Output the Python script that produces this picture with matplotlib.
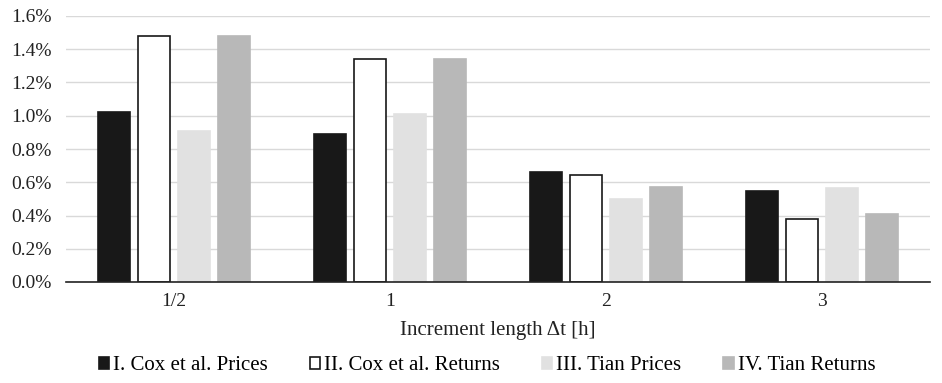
import matplotlib.pyplot as plt
import numpy as np
from matplotlib.ticker import PercentFormatter

plt.rcParams["font.family"] = ["Liberation Serif", "DejaVu Serif"]

# increment lengths and relative error of each estimator (%)
categories = ["1/2", "1", "2", "3"]
cox_prices = [1.02, 0.89, 0.66, 0.55]
cox_returns = [1.48, 1.34, 0.645, 0.38]
tian_prices = [0.91, 1.01, 0.50, 0.565]
tian_returns = [1.48, 1.34, 0.57, 0.41]

series = [
    ("I. Cox et al. Prices", cox_prices, "#181818", "#181818"),
    ("II. Cox et al. Returns", cox_returns, "white", "#181818"),
    ("III. Tian Prices", tian_prices, "#e1e1e1", "#e1e1e1"),
    ("IV. Tian Returns", tian_returns, "#b8b8b8", "#b8b8b8"),
]

fig = plt.figure(figsize=(9.42, 3.83), dpi=100)
ax = fig.add_axes([66 / 942, 101 / 383, 864 / 942, 266 / 383])

x = np.arange(len(categories))
width = 0.145
pitch = 0.185
for i, (name, vals, face, edge) in enumerate(series):
    ax.bar(x + (i - 1.5) * pitch, vals, width, color=face, edgecolor=edge,
           linewidth=1.2, label=name, zorder=3)

ax.set_xlim(-0.5, len(categories) - 0.5)
ax.set_ylim(0, 1.6)
ax.set_yticks(np.arange(0, 1.61, 0.2))
ax.yaxis.set_major_formatter(PercentFormatter(decimals=1))
ax.set_xticks(x)
ax.set_xticklabels(categories)
ax.grid(axis="y", color="#d9d9d9", linewidth=1, zorder=0)
ax.tick_params(axis="both", length=0, labelsize=14, colors="#222222")
ax.tick_params(axis="x", pad=8)
ax.tick_params(axis="y", pad=10)
for side in ["top", "right", "left"]:
    ax.spines[side].set_visible(False)
ax.spines["bottom"].set_color("#222222")
ax.spines["bottom"].set_linewidth(1.2)
ax.spines["bottom"].set_zorder(4)

ax.set_xlabel("Increment length \u0394t [h]", fontsize=15, labelpad=8, color="#222222")

fig.legend(loc="center", bbox_to_anchor=(487 / 942, 1 - 366 / 383), ncol=4,
           frameon=False, fontsize=15, handlelength=0.5, handleheight=0.5,
           handletextpad=0.2, columnspacing=2.0, borderpad=0.1)

fig.savefig("out.png", dpi=100)
